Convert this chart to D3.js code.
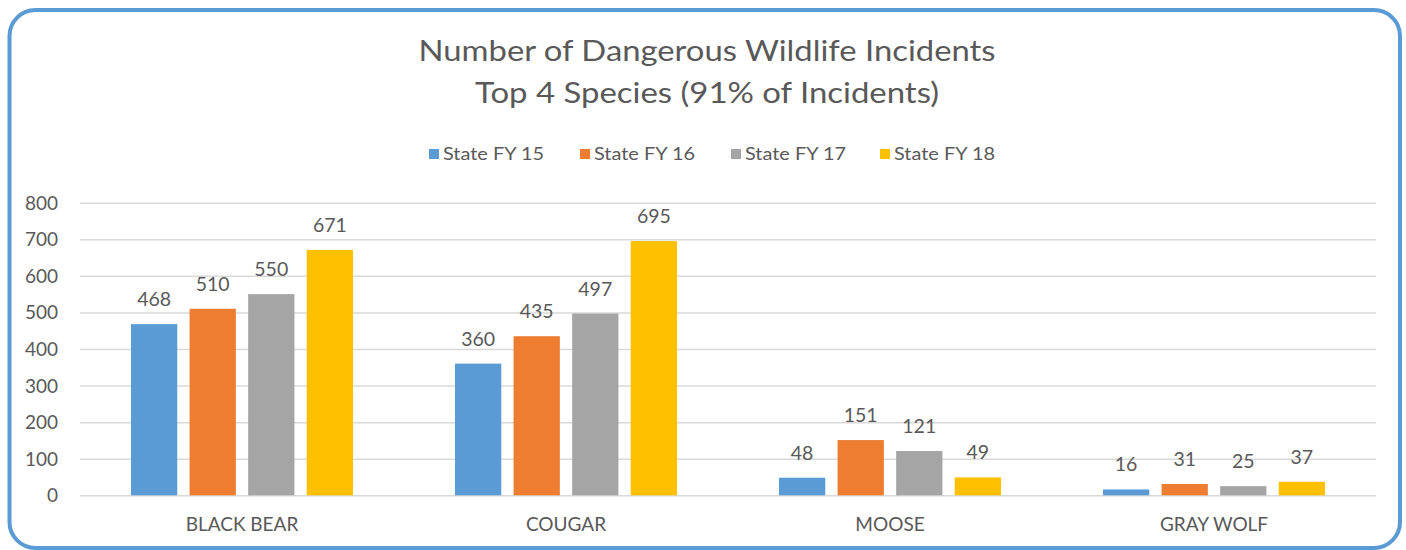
<!DOCTYPE html>
<html><head><meta charset="utf-8">
<script src="https://cdn.jsdelivr.net/npm/d3@7"></script>
<style>html,body{margin:0;padding:0;background:#fff;}svg{display:block;}</style>
</head><body>
<svg id="chart" width="1406" height="550"></svg>
<script>
const categories = ["BLACK BEAR", "COUGAR", "MOOSE", "GRAY WOLF"];
const seriesNames = ["State FY 15", "State FY 16", "State FY 17", "State FY 18"];
const fy15 = [468, 360, 48, 16];
const fy16 = [510, 435, 151, 31];
const fy17 = [550, 497, 121, 25];
const fy18 = [671, 695, 49, 37];
const yTicks = [0, 100, 200, 300, 400, 500, 600, 700, 800];
const titleLines = ["Number of Dangerous Wildlife Incidents", "Top 4 Species (91% of Incidents)"];
const colors = ["#5b9bd5", "#ed7d31", "#a5a5a5", "#ffc000"];

const series = [fy15, fy16, fy17, fy18];
const svg = d3.select("#chart");
const font = "Lato, 'Open Sans', sans-serif";
const textColor = "#595959";

// frame
svg.append("rect").attr("x", 9.5).attr("y", 10).attr("width", 1390.5).attr("height", 538)
  .attr("rx", 26).attr("ry", 26).attr("fill", "#fff").attr("stroke", "#5b9bd5").attr("stroke-width", 4);

// title
const titleWidths = [577, 464];
const titleY = [61, 103];
titleLines.forEach((t, i) => {
  svg.append("text").attr("x", 707).attr("y", titleY[i]).attr("text-anchor", "middle")
    .attr("font-family", font).attr("font-size", 28).attr("fill", textColor)
    .attr("textLength", titleWidths[i]).attr("lengthAdjust", "spacingAndGlyphs").text(t);
});

// legend
const legendX = [429, 580, 731, 880];
seriesNames.forEach((n, i) => {
  svg.append("rect").attr("x", legendX[i]).attr("y", 149).attr("width", 10).attr("height", 10).attr("fill", colors[i]);
  svg.append("text").attr("x", legendX[i] + 14).attr("y", 159.5).attr("font-family", font)
    .attr("font-size", 17).attr("fill", textColor).attr("textLength", 101).attr("lengthAdjust", "spacingAndGlyphs").text(n);
});

// scales
const x0 = d3.scaleBand().domain(categories).range([80, 1376]).paddingInner(0).paddingOuter(0);
const groupW = 222;
const x1 = d3.scaleBand().domain(seriesNames).range([0, groupW]).paddingInner(0.21).paddingOuter(0);
const y = d3.scaleLinear().domain([0, 800]).range([495.3, 202.7]);

// grid
const grid = svg.append("g").attr("transform", "translate(80,0)")
  .call(d3.axisLeft(y).tickValues(yTicks).tickSize(-1296).tickFormat(""));
grid.select(".domain").remove();
grid.selectAll("line").attr("stroke", "#d9d9d9").attr("stroke-width", 1.5);

// y labels
const yAxis = svg.append("g").attr("transform", "translate(60,0)")
  .call(d3.axisLeft(y).tickValues(yTicks).tickSize(0).tickPadding(2));
yAxis.select(".domain").remove();
yAxis.selectAll("text").attr("font-family", font).attr("font-size", 19).attr("fill", textColor).attr("dy", "0.34em");

// bars
categories.forEach((c, ci) => {
  const gx = x0(c) + (x0.bandwidth() - groupW) / 2;
  seriesNames.forEach((s, si) => {
    const v = series[si][ci];
    const bx = gx + x1(s);
    svg.append("rect").attr("x", bx).attr("y", y(v)).attr("width", x1.bandwidth())
      .attr("height", y(0) - y(v)).attr("fill", colors[si]);
    svg.append("text").attr("x", bx + x1.bandwidth() / 2).attr("y", y(v) - 18)
      .attr("text-anchor", "middle").attr("font-family", font).attr("font-size", 19.5)
      .attr("fill", textColor).text(v);
  });
});

// x axis labels
const xAxis = svg.append("g").attr("transform", "translate(0,495.3)")
  .call(d3.axisBottom(x0).tickSize(0).tickPadding(22));
xAxis.select(".domain").remove();
xAxis.selectAll("text").attr("font-family", font).attr("font-size", 19).attr("fill", textColor);
</script>
</body></html>
